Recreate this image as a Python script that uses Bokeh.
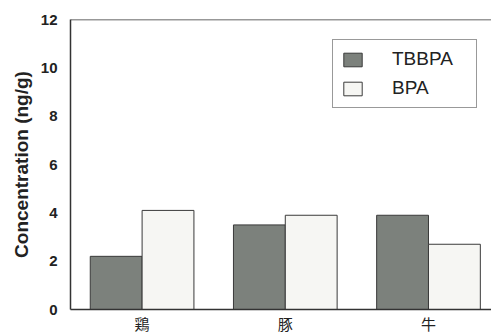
from bokeh.plotting import figure
from bokeh.models import Range1d, FixedTicker, Legend, LegendItem, Span
from bokeh.embed import file_html
from bokeh.resources import INLINE

# Meat types and measured concentrations (ng/g)
categories = ["鶏", "豚", "牛"]
tbbpa = [2.2, 3.5, 3.9]
bpa = [4.1, 3.9, 2.7]
y_ticks = [0, 2, 4, 6, 8, 10, 12]

bar_w = 0.362
centers = [i + 0.5 for i in range(len(categories))]
x_tbbpa = [c - bar_w / 2 for c in centers]
x_bpa = [c + bar_w / 2 for c in centers]

p = figure(width=491, height=335, output_backend="svg", toolbar_location=None,
           x_range=Range1d(0, 2.94), y_range=Range1d(0, 12),
           min_border_left=70, min_border_top=19, min_border_bottom=26,
           min_border_right=0)
p.outline_line_color = None
p.xgrid.visible = False
p.ygrid.visible = False
p.background_fill_color = "white"
p.border_fill_color = "white"

r1 = p.vbar(x=x_tbbpa, top=tbbpa, width=bar_w, fill_color="#7c817c",
            line_color="#3a3a3a", line_width=1)
r2 = p.vbar(x=x_bpa, top=bpa, width=bar_w, fill_color="#f6f6f3",
            line_color="#3a3a3a", line_width=1)

# top frame line
p.add_layout(Span(location=12, dimension="width", line_color="#333333",
                  line_width=1.5))

ya = p.yaxis[0]
ya.ticker = FixedTicker(ticks=y_ticks)
ya.axis_label = "Concentration (ng/g)"
ya.axis_label_text_font = "Liberation Sans"
ya.axis_label_text_font_style = "bold"
ya.axis_label_text_font_size = "19px"
ya.axis_label_text_color = "#222222"
ya.axis_label_standoff = 6
ya.major_label_text_font = "Liberation Sans"
ya.major_label_text_font_style = "bold"
ya.major_label_text_font_size = "15px"
ya.major_label_text_color = "#222222"
ya.major_label_standoff = 13
ya.major_tick_out = 0
ya.major_tick_in = 0
ya.minor_tick_out = 0
ya.minor_tick_in = 0
ya.major_tick_line_color = None
ya.minor_tick_line_color = None
ya.axis_line_color = "#333333"
ya.axis_line_width = 1.5

xa = p.xaxis[0]
xa.ticker = FixedTicker(ticks=centers)
xa.major_label_overrides = {c: lab for c, lab in zip(centers, categories)}
xa.major_label_text_font = "Liberation Sans, Noto Sans CJK JP"
xa.major_label_text_font_size = "15px"
xa.major_label_text_color = "#222222"
xa.major_label_standoff = 6
xa.major_tick_out = 0
xa.major_tick_in = 0
xa.minor_tick_out = 0
xa.minor_tick_in = 0
xa.major_tick_line_color = None
xa.minor_tick_line_color = None
xa.axis_line_color = "#333333"
xa.axis_line_width = 1.5

legend = Legend(items=[LegendItem(label="TBBPA", renderers=[r1]),
                       LegendItem(label="BPA", renderers=[r2])],
                location=(262, 201))
legend.border_line_color = "#333333"
legend.border_line_width = 1
legend.padding = 8
legend.spacing = 7
legend.margin = 0
legend.glyph_width = 23
legend.glyph_height = 17
legend.label_standoff = 28
legend.label_width = 76
legend.label_text_font = "Liberation Sans"
legend.label_text_font_size = "19px"
legend.label_text_color = "#222222"
legend.background_fill_alpha = 1
p.add_layout(legend)

open("out.html", "w").write(file_html(p, INLINE))
